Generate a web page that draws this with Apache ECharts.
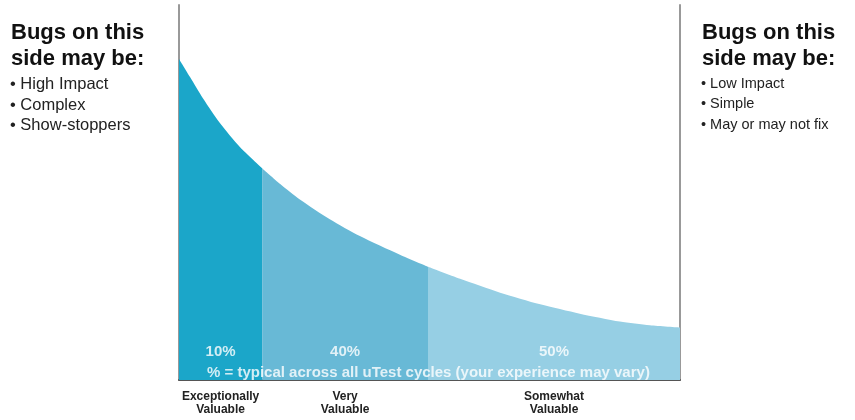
<!DOCTYPE html>
<html>
<head>
<meta charset="utf-8">
<script src="https://cdn.jsdelivr.net/npm/echarts@6/dist/echarts.min.js"></script>
<style>
	html, body { margin: 0; background: #fff; }
	#chart { width: 855px; height: 420px; }
</style>
</head>
<body>
<div id="chart"></div>
<script>
	// curve: x = share of the cycle (0..100), y = bug value (0..100)
	const curveX = [0, 2.2, 4.8, 8.2, 12.2, 16.6, 20.2, 24.2, 30.1, 36.1, 44.1, 49.7, 56.1, 64.1, 72.1, 80.0, 88.0, 94.0, 100]
	const curveY = [85.6, 80.8, 75.1, 68.5, 62.1, 56.5, 52.3, 48.1, 42.9, 38.4, 33.4, 30.2, 27.0, 23.3, 20.2, 17.7, 15.6, 14.6, 14.0]
	const splits = [0, 16.6, 49.7, 100]
	const shares = ['10%', '40%', '50%']
	const groups = ['Exceptionally\nValuable', 'Very\nValuable', 'Somewhat\nValuable']
	const leftNotes = ['High Impact', 'Complex', 'Show-stoppers']
	const rightNotes = ['Low Impact', 'Simple', 'May or may not fix']
	const note = '% = typical across all uTest cycles (your experience may vary)'

	const colors = ['#1ba6c9', '#68b9d6', '#96cfe4']
	const mids = shares.map((s, i) => (splits[i] + splits[i + 1]) / 2)

	const chart = echarts.init(document.getElementById('chart'), null, { renderer: 'canvas' })

	const series = shares.map((s, i) => {
		const pts = []
		curveX.forEach((x, j) => {
			if (x >= splits[i] && x <= splits[i + 1]) pts.push([x, curveY[j]])
		})
		return {
			type: 'line',
			data: pts,
			smooth: 0.25,
			symbol: 'none',
			lineStyle: { width: 0 },
			areaStyle: { color: colors[i], opacity: 1 },
			z: 2
		}
	})

	const sideText = (x, notes, size) => {
		const els = [
			{ type: 'text', left: x, top: 20, style: { text: 'Bugs on this\nside may be:', font: 'bold 22px "Liberation Sans", Arial, sans-serif', fill: '#111', lineHeight: 26 } }
		]
		notes.forEach((n, i) => {
			els.push({ type: 'text', left: x - 1, top: 76 + i * 20.5, style: { text: '• ' + n, font: size + 'px "Liberation Sans", Arial, sans-serif', fill: '#222' } })
		})
		return els
	}

	const shareText = shares.map((s, i) => ({
		type: 'text',
		x: 179 + mids[i] * 5.01,
		y: 352,
		style: { text: s, font: 'bold 15px "Liberation Sans Narrow", "Liberation Sans", sans-serif', fill: 'rgba(255,255,255,0.8)', align: 'center', verticalAlign: 'middle' },
		z: 10
	}))

	chart.setOption({
		animation: false,
		grid: { left: 179, right: 175, top: 5, bottom: 40 },
		xAxis: {
			type: 'value', min: 0, max: 100,
			axisLine: { show: true, onZero: false, lineStyle: { color: '#555', width: 2 } },
			axisTick: { show: false },
			splitLine: { show: false },
			axisLabel: {
				customValues: mids,
				formatter: (v) => {
					const k = mids.findIndex(m => Math.abs(m - v) < 0.01)
					return k >= 0 ? groups[k] : ''
				},
				margin: 10,
				color: '#222',
				fontSize: 12,
				fontWeight: 'bold',
				lineHeight: 13,
				fontFamily: '"Liberation Sans", Arial, sans-serif'
			}
		},
		yAxis: [
			{
				type: 'value', min: 0, max: 100, position: 'left',
				axisLine: { show: true, onZero: false, lineStyle: { color: '#999', width: 2 } },
				axisTick: { show: false }, axisLabel: { show: false }, splitLine: { show: false }
			},
			{
				type: 'value', min: 0, max: 100, position: 'right',
				axisLine: { show: true, onZero: false, lineStyle: { color: '#999', width: 2 } },
				axisTick: { show: false }, axisLabel: { show: false }, splitLine: { show: false }
			}
		],
		series: series,
		graphic: [
			...sideText(11, leftNotes, 16.5),
			...sideText(702, rightNotes, 14.5),
			...shareText,
			{
				type: 'text', x: 207, y: 373, z: 10,
				style: { text: note, font: 'bold 15px "Liberation Sans", Arial, sans-serif', fill: 'rgba(255,255,255,0.8)', verticalAlign: 'middle' }
			}
		]
	})
</script>
</body>
</html>
